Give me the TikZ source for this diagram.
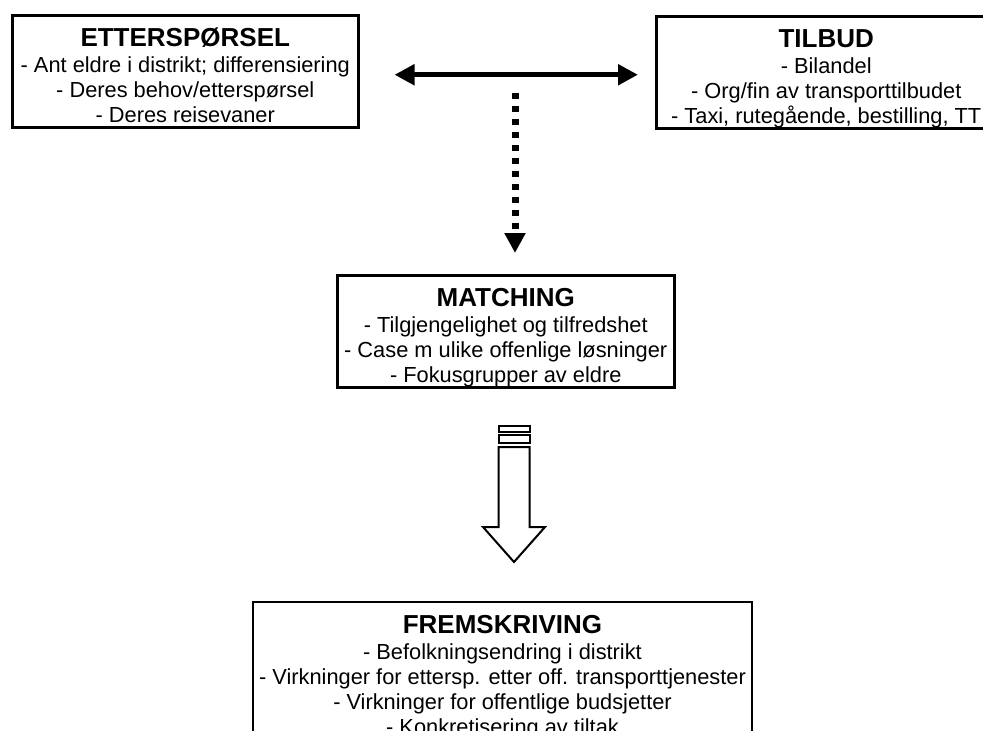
\documentclass[tikz,border=0pt]{standalone}
\usepackage{fontspec}
\setmainfont{Liberation Sans}
\usetikzlibrary{arrows.meta}

\newcommand{\boxtitle}[1]{\rule{0pt}{31pt}{\fontsize{26}{26}\selectfont\bfseries #1}}
\newcommand{\lastdepth}{\rule[-5pt]{0pt}{5pt}}

\tikzset{
  databox/.style={draw=black, line width=2.5pt, inner sep=0pt, anchor=north west,
    align=center, font=\fontsize{21.8}{25}\selectfont},
  bigtip/.style={-{Triangle[length=20pt,width=20pt]}}
}

\begin{document}
\begin{tikzpicture}[x=1pt, y=-1pt]

\clip (0,0) rectangle (983,731);

\node [databox, minimum width=346pt] (ett) at (11,14)
  {\boxtitle{ETTERSPØRSEL}\\[1pt]
   - Ant eldre i distrikt; differensiering\\
   - Deres behov/etterspørsel\\
   - Deres reisevaner\lastdepth};

\node [databox, minimum width=340pt] (til) at (655,15)
  {\boxtitle{TILBUD}\\[1pt]
   - Bilandel\\
   - Org/fin av transporttilbudet\\
   - Taxi, rutegående, bestilling, TT\lastdepth};

\node [databox, minimum width=337pt] (match) at (336,274)
  {\boxtitle{MATCHING}\\[1pt]
   - Tilgjengelighet og tilfredshet\\
   - Case m ulike offenlige løsninger\\
   - Fokusgrupper av eldre\lastdepth};

\node [databox, line width=2pt, minimum width=499pt] (frem) at (252,601)
  {\boxtitle{FREMSKRIVING}\\[1pt]
   - Befolkningsendring i distrikt\\
   - Virkninger for ettersp. etter off. transporttjenester\\
   - Virkninger for offentlige budsjetter\\
   - Konkretisering av tiltak\lastdepth};

% double arrow between demand and supply
\coordinate (left) at ([yshift=-3.5pt]ett.east);
\draw [{Triangle[length=20pt,width=20pt]}-{Triangle[length=20pt,width=20pt]}, line width=5pt,
  shorten <=35pt, shorten >=17pt] (left) -- (left -| til.west);

% dotted arrow down to matching
\coordinate (mid) at (515,93);
\draw [bigtip, line width=7pt, dash pattern=on 6pt off 7pt, shorten >=21pt]
  (mid) -- (mid |- match.north);

% striped block arrow down to fremskriving
\draw [line width=2pt, fill=white] (498.5,426) rectangle (529.5,432);
\draw [line width=2pt, fill=white] (498.5,435) rectangle (529.5,443);
\draw [line width=2pt, fill=white] (498.5,447) -- (498.5,527) -- (483,527) -- (514,562)
  -- (545,527) -- (529.5,527) -- (529.5,447) -- cycle;

\end{tikzpicture}
\end{document}
